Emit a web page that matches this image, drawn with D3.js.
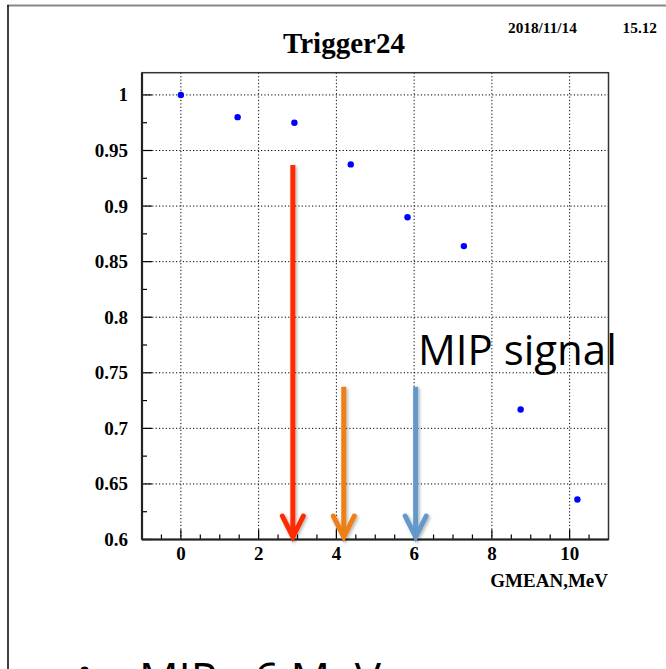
<!DOCTYPE html>
<html><head><meta charset="utf-8">
<script src="https://cdn.jsdelivr.net/npm/d3@7"></script>
<style>html,body{margin:0;padding:0;background:#fff;overflow:hidden}svg{display:block}</style>
</head><body>
<script>
// ---- data ----
const gmean = [0, 1.46, 2.92, 4.37, 5.83, 7.28, 8.74, 10.2];
const efficiency = [1.0, 0.980, 0.975, 0.9375, 0.890, 0.864, 0.717, 0.636];
const xTicks = [0, 2, 4, 6, 8, 10];
const yTicks = [0.6, 0.65, 0.7, 0.75, 0.8, 0.85, 0.9, 0.95, 1];
const yTickLabels = ["0.6", "0.65", "0.7", "0.75", "0.8", "0.85", "0.9", "0.95", "1"];
const arrowX = [2.88, 4.19, 6.04];
const arrowTop = [0.937, 0.7375, 0.7375];
const arrowColors = ["#ff2a06", "#ec7f12", "#6498ca"];
const titleText = "Trigger24";
const dateText = ["2018/11/14", "15.12"];
const xTitle = "GMEAN,MeV";

const W = 666, H = 669;
const svg = d3.select("body").append("svg").attr("width", W).attr("height", H);

const defs = svg.append("defs");
const f = defs.append("filter").attr("id", "sh").attr("x", "-50%").attr("y", "-10%").attr("width", "200%").attr("height", "120%");
f.append("feDropShadow").attr("dx", 1.5).attr("dy", 1.5).attr("stdDeviation", 1.5).attr("flood-color", "#000").attr("flood-opacity", 0.3);

// outer frame
svg.append("line").attr("x1", 7).attr("x2", W).attr("y1", 5.5).attr("y2", 5.5).attr("stroke", "#888").attr("stroke-width", 2);
svg.append("line").attr("x1", 8).attr("x2", 8).attr("y1", 5).attr("y2", H).attr("stroke", "#000").attr("stroke-width", 1.5);

const L = 142, R = 608.5, T = 72.7, B = 539.5;
const x = d3.scaleLinear().domain([-1, 11]).range([L, R]);
const y = d3.scaleLinear().domain([0.6, 1.02]).range([B, T]);

const g = svg.append("g");
// grid
g.selectAll(".gx").data(xTicks).join("line")
  .attr("x1", d => x(d)).attr("x2", d => x(d)).attr("y1", T).attr("y2", B)
  .attr("stroke", "#000").attr("stroke-width", 1).attr("stroke-dasharray", "1.2,2.2");
g.selectAll(".gy").data(yTicks).join("line")
  .attr("x1", L).attr("x2", R).attr("y1", d => y(d)).attr("y2", d => y(d))
  .attr("stroke", "#000").attr("stroke-width", 1).attr("stroke-dasharray", "1.2,2.2");

// ticks (inside)
const xMinor = d3.range(-0.5, 11, 0.5).filter(v => Math.abs(v / 2 - Math.round(v / 2)) > 1e-6);
g.selectAll(".xmaj").data(xTicks).join("line")
  .attr("x1", d => x(d)).attr("x2", d => x(d)).attr("y1", B).attr("y2", B - 10)
  .attr("stroke", "#000").attr("stroke-width", 1.2);
g.selectAll(".xmin").data(xMinor).join("line")
  .attr("x1", d => x(d)).attr("x2", d => x(d)).attr("y1", B).attr("y2", B - 5)
  .attr("stroke", "#000").attr("stroke-width", 1.2);
const yMinor = d3.range(0.625, 1.02, 0.05);
g.selectAll(".ymaj").data(yTicks).join("line")
  .attr("x1", L).attr("x2", L + 10).attr("y1", d => y(d)).attr("y2", d => y(d))
  .attr("stroke", "#000").attr("stroke-width", 1.2);
g.selectAll(".ymin").data(yMinor).join("line")
  .attr("x1", L).attr("x2", L + 5).attr("y1", d => y(d)).attr("y2", d => y(d))
  .attr("stroke", "#000").attr("stroke-width", 1.2);

// frame
g.append("rect").attr("x", L).attr("y", T).attr("width", R - L).attr("height", B - T)
  .attr("fill", "none").attr("stroke", "#333").attr("stroke-width", 1.5);
g.append("line").attr("x1", L).attr("x2", L).attr("y1", T).attr("y2", B).attr("stroke", "#222").attr("stroke-width", 2.2);
g.append("line").attr("x1", L).attr("x2", R).attr("y1", B).attr("y2", B).attr("stroke", "#222").attr("stroke-width", 2.2);

// tick labels
const serif = "'Liberation Serif','Times New Roman',serif";
g.selectAll(".xl").data(xTicks).join("text")
  .attr("x", d => x(d)).attr("y", 560).attr("text-anchor", "middle")
  .attr("font-family", serif).attr("font-weight", "bold").attr("font-size", 19).text(d => d);
g.selectAll(".yl").data(yTicks).join("text")
  .attr("x", 128).attr("y", d => y(d) + 6.5).attr("text-anchor", "end")
  .attr("font-family", serif).attr("font-weight", "bold").attr("font-size", 19).text((d, i) => yTickLabels[i]);

svg.append("text").attr("x", 608).attr("y", 587).attr("text-anchor", "end")
  .attr("font-family", serif).attr("font-weight", "bold").attr("font-size", 19).text(xTitle);
svg.append("text").attr("x", 344).attr("y", 53).attr("text-anchor", "middle")
  .attr("font-family", serif).attr("font-weight", "bold").attr("font-size", 29).text(titleText);
svg.append("text").attr("x", 508).attr("y", 33)
  .attr("font-family", serif).attr("font-weight", "bold").attr("font-size", 15.3).text(dateText[0]);
svg.append("text").attr("x", 657).attr("y", 33).attr("text-anchor", "end")
  .attr("font-family", serif).attr("font-weight", "bold").attr("font-size", 15.3).text(dateText[1]);

// points
g.selectAll(".pt").data(gmean).join("circle")
  .attr("cx", d => x(d)).attr("cy", (d, i) => y(efficiency[i])).attr("r", 3.2).attr("fill", "#0000ff");

// arrows
const ag = svg.append("g").attr("filter", "url(#sh)");
arrowX.forEach((ax, i) => {
  const px = x(ax), top = y(arrowTop[i]), tip = y(0.6) - 2.5;
  const a = ag.append("g");
  a.append("line").attr("x1", px).attr("x2", px).attr("y1", top).attr("y2", tip - 3)
    .attr("stroke", arrowColors[i]).attr("stroke-width", 5);
  a.append("path").attr("d", `M${px - 10.5},${tip - 21} L${px},${tip} L${px + 10.5},${tip - 21}`)
    .attr("fill", "none").attr("stroke", arrowColors[i]).attr("stroke-width", 5)
    .attr("stroke-linejoin", "miter").attr("stroke-linecap", "round");
});

// annotation texts
const sans = "'Open Sans','Noto Sans',sans-serif";
svg.append("text").attr("x", 418).attr("y", 365).attr("font-family", sans)
  .attr("font-size", 42).attr("fill", "#000").text("MIP signal");
svg.append("text").attr("x", 77).attr("y", 686).attr("font-family", sans)
  .attr("font-size", 40).attr("fill", "#000").text("•");
svg.append("text").attr("x", 139).attr("y", 694).attr("font-family", sans)
  .attr("font-size", 44).attr("fill", "#000").text("MIP ~6 MeV");
</script>
</body></html>
